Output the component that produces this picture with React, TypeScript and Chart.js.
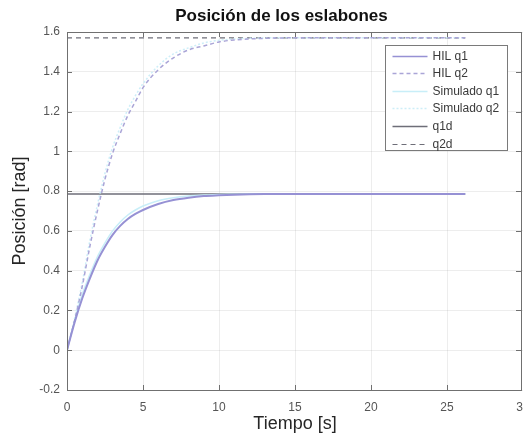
import React, { useEffect, useRef } from "react";
import { Chart, registerables } from "chart.js";

Chart.register(...registerables);

// ---- Data ----
const TITLE = "Posición de los eslabones";
const X_LABEL = "Tiempo [s]";
const Y_LABEL = "Posición [rad]";

const time = [0, 0.5, 1, 1.5, 2, 2.5, 3, 3.5, 4, 4.5, 5, 6, 7, 8, 9, 10, 11, 12, 13, 14, 16, 18, 20, 22, 24, 26.2];

const hilQ1 = [0, 0.14, 0.26, 0.36, 0.45, 0.52, 0.58, 0.625, 0.66, 0.685, 0.705, 0.735, 0.755, 0.767, 0.775, 0.779, 0.782, 0.784, 0.785, 0.785, 0.785, 0.785, 0.785, 0.785, 0.785, 0.785];
const hilQ2 = [0, 0.15, 0.32, 0.52, 0.7, 0.86, 0.99, 1.09, 1.18, 1.25, 1.32, 1.41, 1.47, 1.51, 1.53, 1.55, 1.56, 1.565, 1.568, 1.57, 1.571, 1.571, 1.571, 1.571, 1.571, 1.571];
const simQ1 = [0, 0.15, 0.28, 0.38, 0.47, 0.54, 0.6, 0.645, 0.68, 0.705, 0.725, 0.752, 0.767, 0.776, 0.78, 0.783, 0.784, 0.785, 0.785, 0.785, 0.785, 0.785, 0.785, 0.785, 0.785, 0.785];
const simQ2 = [0, 0.16, 0.34, 0.55, 0.73, 0.89, 1.02, 1.12, 1.21, 1.28, 1.34, 1.43, 1.49, 1.52, 1.545, 1.558, 1.565, 1.568, 1.57, 1.571, 1.571, 1.571, 1.571, 1.571, 1.571, 1.571];

const refTime = [0, 26.2];
const q1d = [0.7854, 0.7854];
const q2d = [1.5708, 1.5708];

const seriesLabels = ["HIL q1", "HIL q2", "Simulado q1", "Simulado q2", "q1d", "q2d"];

const xTicks = [0, 5, 10, 15, 20, 25, 30];
const yTicks = [-0.2, 0, 0.2, 0.4, 0.6, 0.8, 1, 1.2, 1.4, 1.6];

const FONT = "'Liberation Sans', Arial, Helvetica, sans-serif";

function pts(xs: number[], ys: number[]) {
  return xs.map((x, i) => ({ x, y: ys[i] }));
}

const titleShiftPlugin = {
  id: "titleShift",
  beforeDraw(chart: any) {
    const tb = chart.titleBlock;
    if (tb) {
      tb.left = 40;
    }
  },
};

const framePlugin = {
  id: "matlabFrame",
  afterDraw(chart: any) {
    const { ctx, chartArea } = chart;
    const { left, right, top, bottom } = chartArea;
    const xs = chart.scales.x;
    const ys = chart.scales.y;
    ctx.save();
    ctx.strokeStyle = "#707070";
    ctx.lineWidth = 1;
    ctx.strokeRect(Math.round(left) + 0.5, Math.round(top) + 0.5, Math.round(right - left) - 2, Math.round(bottom - top));
    const tl = 5;
    ctx.beginPath();
    xTicks.forEach((v) => {
      const px = Math.round(xs.getPixelForValue(v)) + 0.5;
      ctx.moveTo(px, bottom);
      ctx.lineTo(px, bottom - tl);
      ctx.moveTo(px, top);
      ctx.lineTo(px, top + tl);
    });
    yTicks.forEach((v) => {
      const py = Math.round(ys.getPixelForValue(v)) + 0.5;
      ctx.moveTo(left, py);
      ctx.lineTo(left + tl, py);
      ctx.moveTo(right - 2, py);
      ctx.lineTo(right - 2 - tl, py);
    });
    ctx.stroke();
    ctx.restore();
  },
};

const legendPlugin = {
  id: "matlabLegend",
  afterDatasetsDraw(chart: any) {
    const { ctx, chartArea } = chart;
    const boxW = 122;
    const boxH = 105;
    const bx = Math.round(chartArea.right - 16 - boxW) + 0.5;
    const by = Math.round(chartArea.top + 13) + 0.5;
    ctx.save();
    ctx.fillStyle = "#ffffff";
    ctx.fillRect(bx, by, boxW, boxH);
    ctx.strokeStyle = "#7a7a7a";
    ctx.lineWidth = 1;
    ctx.setLineDash([]);
    ctx.strokeRect(bx, by, boxW, boxH);
    ctx.font = `12px ${FONT}`;
    ctx.textBaseline = "middle";
    ctx.fillStyle = "#3a3a3a";
    chart.data.datasets.forEach((ds: any, i: number) => {
      const y = Math.round(by + 10 + i * 17.6) + 0.5;
      ctx.save();
      ctx.strokeStyle = ds.borderColor;
      ctx.lineWidth = Math.min(ds.borderWidth, 1.5);
      ctx.setLineDash(ds.borderDash || []);
      ctx.beginPath();
      ctx.moveTo(bx + 7, y);
      ctx.lineTo(bx + 42, y);
      ctx.stroke();
      ctx.restore();
      ctx.fillText(ds.label, bx + 47, y);
    });
    ctx.restore();
  },
};

export default function App() {
  const canvasRef = useRef<HTMLCanvasElement | null>(null);

  useEffect(() => {
    document.body.style.margin = "0";
    document.body.style.overflow = "hidden";
    const canvas = canvasRef.current;
    if (!canvas) return;
    const chart = new Chart(canvas, {
      type: "line",
      data: {
        datasets: [
          {
            label: seriesLabels[0],
            data: pts(time, hilQ1),
            borderColor: "rgb(150,145,212)",
            borderWidth: 2,
            pointRadius: 0,
            cubicInterpolationMode: "monotone",
          },
          {
            label: seriesLabels[1],
            data: pts(time, hilQ2),
            borderColor: "rgb(170,165,215)",
            borderWidth: 1.5,
            borderDash: [4, 3],
            pointRadius: 0,
            cubicInterpolationMode: "monotone",
          },
          {
            label: seriesLabels[2],
            data: pts(time, simQ1),
            borderColor: "rgb(200,238,248)",
            borderWidth: 1.5,
            pointRadius: 0,
            cubicInterpolationMode: "monotone",
          },
          {
            label: seriesLabels[3],
            data: pts(time, simQ2),
            borderColor: "rgb(205,238,248)",
            borderWidth: 1.5,
            borderDash: [2, 2],
            pointRadius: 0,
            cubicInterpolationMode: "monotone",
          },
          {
            label: seriesLabels[4],
            data: pts(refTime, q1d),
            borderColor: "rgb(110,110,120)",
            borderWidth: 1.5,
            pointRadius: 0,
          },
          {
            label: seriesLabels[5],
            data: pts(refTime, q2d),
            borderColor: "rgb(110,110,120)",
            borderWidth: 1.2,
            borderDash: [5, 4],
            pointRadius: 0,
          },
        ],
      } as any,
      options: {
        animation: false,
        responsive: false,
        maintainAspectRatio: false,
        layout: { padding: 0 },
        plugins: {
          legend: { display: false },
          tooltip: { enabled: false },
          title: {
            display: true,
            text: TITLE,
            color: "#111111",
            font: { family: FONT, size: 17, weight: "bold" },
            padding: { top: 6, bottom: 5.6 },
          },
        },
        scales: {
          x: {
            type: "linear",
            min: 0,
            max: 30,
            afterBuildTicks(scale: any) {
              scale.ticks = xTicks.map((v) => ({ value: v }));
            },
            afterFit(scale: any) {
              scale.height = 48;
              scale.paddingRight = 0;
              scale.paddingLeft = 0;
            },
            ticks: {
              color: "#555555",
              font: { family: FONT, size: 12 },
              padding: 10,
              maxRotation: 0,
              autoSkip: false,
              callback: (v: any) => String(v),
            },
            grid: { color: "rgba(0,0,0,0.07)", drawTicks: false },
            border: { display: false },
            title: {
              display: true,
              text: X_LABEL,
              color: "#262626",
              font: { family: FONT, size: 18 },
              padding: { top: 0, bottom: 3 },
            },
          },
          y: {
            type: "linear",
            min: -0.2,
            max: 1.6,
            afterBuildTicks(scale: any) {
              scale.ticks = yTicks.map((v) => ({ value: v }));
            },
            afterFit(scale: any) {
              scale.width = 67;
            },
            ticks: {
              color: "#555555",
              font: { family: FONT, size: 12 },
              padding: 7,
              autoSkip: false,
              callback: (v: any) => String(parseFloat(Number(v).toFixed(1))),
            },
            grid: { color: "rgba(0,0,0,0.07)", drawTicks: false },
            border: { display: false },
            title: {
              display: true,
              text: Y_LABEL,
              color: "#262626",
              font: { family: FONT, size: 18 },
              padding: { top: 9, bottom: 0 },
            },
          },
        },
      } as any,
      plugins: [titleShiftPlugin, framePlugin, legendPlugin],
    });
    return () => chart.destroy();
  }, []);

  return (
    <div style={{ width: 523, height: 438, background: "#ffffff" }}>
      <canvas ref={canvasRef} width={523} height={438} style={{ display: "block" }} />
    </div>
  );
}
